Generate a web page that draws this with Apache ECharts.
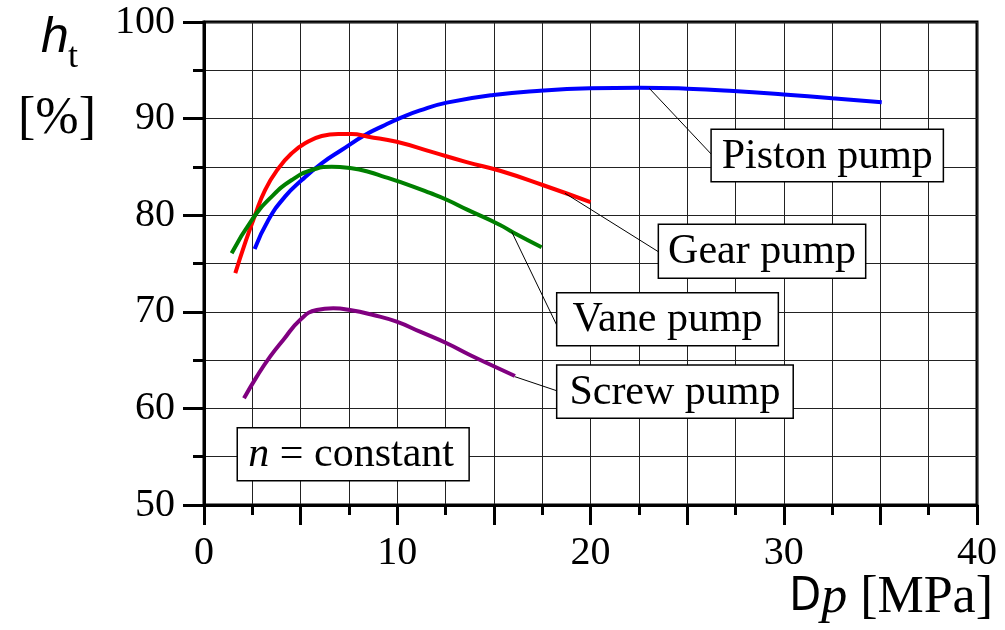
<!DOCTYPE html>
<html>
<head>
<meta charset="utf-8">
<script src="https://cdn.jsdelivr.net/npm/echarts@6/dist/echarts.min.js"></script>
<style>
html,body{margin:0;padding:0;background:#fff;}
#chart{width:1005px;height:630px;}
</style>
</head>
<body>
<div id="chart"></div>
<script>
// ---- data ----
const seriesNames = ['Piston pump', 'Gear pump', 'Vane pump', 'Screw pump'];

const pistonX = [2.62, 3.33, 4.19, 5.06, 6.09, 7.12, 8.33, 9.37, 10.2, 11.18, 12.56, 14.97, 17.56, 19.97, 22.56, 25.0, 27.4, 30.0, 32.5, 35.07];
const pistonY = [76.5, 79.5, 81.92, 83.64, 85.37, 86.75, 88.3, 89.34, 90.1, 90.85, 91.65, 92.45, 92.9, 93.13, 93.2, 93.1, 92.86, 92.5, 92.1, 91.7];

const gearX = [1.62, 2.12, 2.64, 3.16, 3.85, 4.54, 5.23, 6.09, 6.95, 7.64, 8.5, 9.97, 11.87, 13.59, 15.32, 17.56, 20.0];
const gearY = [74.0, 77.09, 80.0, 82.6, 84.85, 86.41, 87.44, 88.2, 88.41, 88.41, 88.13, 87.6, 86.5, 85.5, 84.6, 83.1, 81.35];

const vaneX = [1.43, 2.47, 3.5, 4.54, 5.57, 6.61, 7.64, 8.5, 9.37, 10.14, 11.69, 12.56, 13.59, 15.32, 16.0, 17.47];
const vaneY = [76.06, 79.5, 81.92, 83.64, 84.68, 85.02, 84.85, 84.5, 83.95, 83.45, 82.3, 81.6, 80.6, 78.99, 78.2, 76.68];

const screwX = [2.07, 2.73, 3.42, 4.1, 4.97, 5.83, 6.69, 7.55, 8.76, 9.97, 11.18, 12.56, 13.76, 14.97, 16.09];
const screwY = [61.05, 63.29, 65.36, 67.08, 69.15, 70.19, 70.36, 70.19, 69.67, 68.98, 67.94, 66.74, 65.53, 64.39, 63.35];

const xTickLabels = [0, 10, 20, 30, 40];
const yTickLabels = [50, 60, 70, 80, 90, 100];

// ---- annotation layout (data coordinates) ----
const annotations = [
  { text: 'Piston pump', from: [23.04, 93.14], to: [26.24, 86.34], box: [26.24, 88.89, 38.26, 83.47] },
  { text: 'Gear pump',   from: [18.68, 82.27], to: [23.51, 76.22], box: [23.51, 79.06, 34.24, 73.47] },
  { text: 'Vane pump',   from: [15.92, 78.29], to: [18.25, 68.63], box: [18.25, 71.98, 29.72, 66.49] },
  { text: 'Screw pump',  from: [16.09, 63.28], to: [18.25, 61.83], box: [18.25, 64.49, 30.49, 58.97] }
];
const noteBox = [1.72, 58.0, 13.72, 52.52];

const colors = ['#0000ff', '#ff0000', '#008000', '#800080'];
const serif = '"Liberation Serif", "Times New Roman", serif';

function zip(xs, ys) { return xs.map((x, i) => [x, ys[i]]); }
const seriesData = [zip(pistonX, pistonY), zip(gearX, gearY), zip(vaneX, vaneY), zip(screwX, screwY)];

const chart = echarts.init(document.getElementById('chart'), null, { renderer: 'canvas' });

const axisCommon = {
  type: 'value',
  axisLine: { show: true, onZero: false, lineStyle: { color: '#000', width: 3 } },
  axisTick: { show: true, inside: false, lineStyle: { color: '#000', width: 3 } },
  minorTick: { show: true, splitNumber: 2, lineStyle: { color: '#000', width: 3 } },
  splitLine: { show: true, lineStyle: { color: '#222', width: 1 } },
  minorSplitLine: { show: true, lineStyle: { color: '#222', width: 1 } },
  axisLabel: { color: '#000', fontFamily: serif, fontSize: 40 }
};

chart.setOption({
  animation: false,
  backgroundColor: '#fff',
  grid: { left: 204, top: 22, width: 773, height: 483, show: true, borderColor: '#000', borderWidth: 3, backgroundColor: 'transparent' },
  xAxis: Object.assign({}, axisCommon, {
    min: 0, max: 40, interval: 5,
    axisTick: Object.assign({}, axisCommon.axisTick, { length: 20 }),
    minorTick: Object.assign({}, axisCommon.minorTick, { splitNumber: 2, length: 10 }),
    axisLabel: Object.assign({}, axisCommon.axisLabel, {
      margin: 28,
      formatter: v => (xTickLabels.indexOf(v) >= 0 ? String(v) : '')
    })
  }),
  yAxis: Object.assign({}, axisCommon, {
    min: 50, max: 100, interval: 10,
    axisTick: Object.assign({}, axisCommon.axisTick, { length: 21 }),
    minorTick: Object.assign({}, axisCommon.minorTick, { splitNumber: 2, length: 11 }),
    axisLabel: Object.assign({}, axisCommon.axisLabel, {
      margin: 29,
      formatter: v => (yTickLabels.indexOf(v) >= 0 ? String(v) : '')
    })
  }),
  series: seriesNames.map((name, i) => ({
    name: name,
    type: 'line',
    data: seriesData[i],
    smooth: 0.5,
    showSymbol: false,
    symbol: 'none',
    lineStyle: { color: colors[i], width: 4 },
    z: 3
  }))
});

function px(p) { return chart.convertToPixel({ gridIndex: 0 }, p); }

const graphics = [];
annotations.forEach(a => {
  const f = px(a.from), t = px(a.to);
  const tl = px([a.box[0], a.box[1]]), br = px([a.box[2], a.box[3]]);
  graphics.push({
    type: 'line', z: 10,
    shape: { x1: f[0], y1: f[1], x2: t[0], y2: t[1] },
    style: { stroke: '#000', lineWidth: 1 }
  });
  graphics.push({
    type: 'rect', z: 11,
    shape: { x: tl[0], y: tl[1], width: br[0] - tl[0], height: br[1] - tl[1] },
    style: { fill: '#fff', stroke: '#000', lineWidth: 1.5 }
  });
  graphics.push({
    type: 'text', z: 12,
    x: (tl[0] + br[0]) / 2, y: (tl[1] + br[1]) / 2 + 1,
    style: { text: a.text, font: '42px ' + serif, fill: '#000', align: 'center', verticalAlign: 'middle' }
  });
});

(function () {
  const tl = px([noteBox[0], noteBox[1]]), br = px([noteBox[2], noteBox[3]]);
  graphics.push({
    type: 'rect', z: 11,
    shape: { x: tl[0], y: tl[1], width: br[0] - tl[0], height: br[1] - tl[1] },
    style: { fill: '#fff', stroke: '#000', lineWidth: 1.5 }
  });
  graphics.push({
    type: 'text', z: 12,
    x: (tl[0] + br[0]) / 2 - 2, y: (tl[1] + br[1]) / 2 + 1,
    style: {
      text: '{i|n} = constant',
      font: '42px ' + serif, fill: '#000', align: 'center', verticalAlign: 'middle',
      rich: { i: { fontFamily: serif, fontSize: 42, fontStyle: 'italic' } }
    }
  });
})();

// y-axis title
graphics.push({
  type: 'text', z: 12, x: 41, y: 38,
  style: { text: 'h', font: 'italic 50px "Liberation Sans", Arial, sans-serif', fill: '#000', align: 'left', verticalAlign: 'middle' }
});
graphics.push({
  type: 'text', z: 12, x: 68, y: 58,
  style: { text: 't', font: '36px ' + serif, fill: '#000', align: 'left', verticalAlign: 'middle' }
});
graphics.push({
  type: 'text', z: 12, x: 57, y: 119,
  style: { text: '[%]', font: '52px ' + serif, fill: '#000', align: 'center', verticalAlign: 'middle' }
});

// x-axis title
graphics.push({
  type: 'text', z: 12, x: 993, y: 598,
  style: {
    text: '{d|D}{p|p} [MPa]',
    font: '52px ' + serif, fill: '#000', align: 'right', verticalAlign: 'middle',
    rich: {
      d: { fontFamily: '"Liberation Sans Narrow", "DejaVu Sans Condensed", sans-serif', fontSize: 46 },
      p: { fontFamily: serif, fontSize: 52, fontStyle: 'italic' }
    }
  }
});

chart.setOption({ graphic: graphics });
</script>
</body>
</html>
